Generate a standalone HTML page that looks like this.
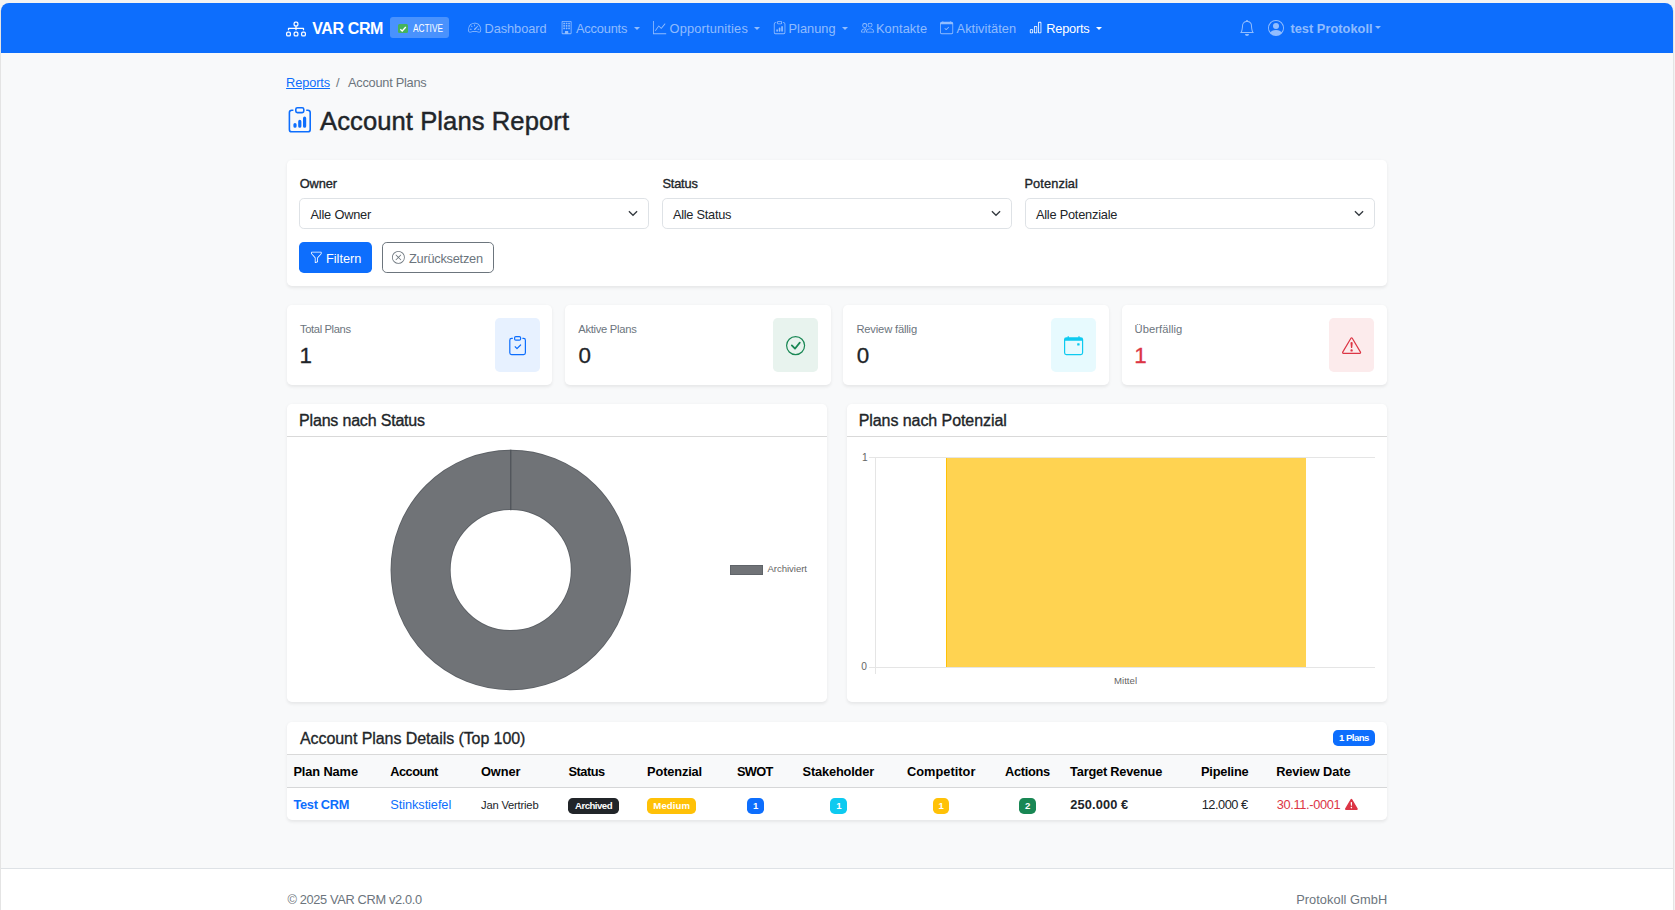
<!DOCTYPE html>
<html><head><meta charset="utf-8"><title>Account Plans Report - VAR CRM</title>
<style>
html,body{margin:0;padding:0}
body{width:1675px;height:910px;overflow:hidden;background:#f3f3f3;position:relative;font-family:"Liberation Sans", Arial, sans-serif}
#page{position:absolute;left:1px;top:3px;width:1672px;height:907px;background:#f8f9fa;border-radius:8px 8px 0 0}
.t{position:absolute;white-space:nowrap;line-height:1;font-family:"Liberation Sans", Arial, sans-serif}
a.t{text-decoration:none}
.b{position:absolute}
.i{position:absolute;overflow:visible}
</style></head><body>
<div id="page"></div>
<div class="b" style="left:1.00px;top:3.00px;width:1672.00px;height:50.00px;background:#0d6efd;border-radius:8px 8px 0 0"></div>
<div class="b" style="left:0.00px;top:10.00px;width:1.00px;height:900.00px;background:#e4e4e4"></div>
<div class="b" style="left:1673.00px;top:10.00px;width:1.00px;height:900.00px;background:#e4e4e4"></div>
<header><nav>
<svg class="i" style="left:286.00px;top:18.50px;width:20px;height:20px;color:#fff;" viewBox="0 0 16 16" fill="currentColor"><path fill-rule="evenodd" d="M6 3.5A1.5 1.5 0 0 1 7.5 2h1A1.5 1.5 0 0 1 10 3.5v1A1.5 1.5 0 0 1 8.5 6v1H14a.5.5 0 0 1 .5.5v1a.5.5 0 0 1-1 0V8h-5v.5a.5.5 0 0 1-1 0V8h-5v.5a.5.5 0 0 1-1 0v-1A.5.5 0 0 1 2 7h5.5V6A1.5 1.5 0 0 1 6 4.5zM8.5 5a.5.5 0 0 0 .5-.5v-1a.5.5 0 0 0-.5-.5h-1a.5.5 0 0 0-.5.5v1a.5.5 0 0 0 .5.5zM0 11.5A1.5 1.5 0 0 1 1.5 10h1A1.5 1.5 0 0 1 4 11.5v1A1.5 1.5 0 0 1 2.5 14h-1A1.5 1.5 0 0 1 0 12.5zm1.5-.5a.5.5 0 0 0-.5.5v1a.5.5 0 0 0 .5.5h1a.5.5 0 0 0 .5-.5v-1a.5.5 0 0 0-.5-.5zm4.5.5A1.5 1.5 0 0 1 7.5 10h1a1.5 1.5 0 0 1 1.5 1.5v1A1.5 1.5 0 0 1 8.5 14h-1A1.5 1.5 0 0 1 6 12.5zm1.5-.5a.5.5 0 0 0-.5.5v1a.5.5 0 0 0 .5.5h1a.5.5 0 0 0 .5-.5v-1a.5.5 0 0 0-.5-.5zm4.5.5a1.5 1.5 0 0 1 1.5-1.5h1a1.5 1.5 0 0 1 1.5 1.5v1a1.5 1.5 0 0 1-1.5 1.5h-1a1.5 1.5 0 0 1-1.5-1.5zm1.5-.5a.5.5 0 0 0-.5.5v1a.5.5 0 0 0 .5.5h1a.5.5 0 0 0 .5-.5v-1a.5.5 0 0 0-.5-.5z"/></svg>
<a href="#" id="brand" class="t" style="left:312.20px;top:21.36px;font-size:16px;font-weight:700;color:#fff;letter-spacing:-0.375px;">VAR CRM</a>
<div class="b" style="left:390.00px;top:17.00px;width:59.00px;height:21.00px;background:rgba(255,255,255,.25);border-radius:3px"></div>
<div class="b" style="left:398px;top:24px;width:10px;height:9px;background:#45b35c;border-radius:1.5px"></div>
<svg class="i" style="left:399px;top:24.5px;width:8px;height:8px" viewBox="0 0 8 8"><path d="M1.3 4.2 L3.2 6 L6.8 2" stroke="#fff" stroke-width="1.3" fill="none"/></svg>
<span id="active" class="t" style="left:412.90px;top:23.87px;font-size:10.2px;font-weight:400;color:#fff;letter-spacing:0.000px;transform:scaleX(0.8135);transform-origin:0.00px 0;">ACTIVE</span>
<svg class="i" style="left:468.30px;top:21.40px;width:13.2px;height:13.2px;color:rgba(255,255,255,.55);" viewBox="0 0 16 16" fill="currentColor"><path d="M8 4a.5.5 0 0 1 .5.5V6a.5.5 0 0 1-1 0V4.5A.5.5 0 0 1 8 4M3.732 5.732a.5.5 0 0 1 .707 0l.915.914a.5.5 0 1 1-.708.708l-.914-.915a.5.5 0 0 1 0-.707M2 10a.5.5 0 0 1 .5-.5h1.586a.5.5 0 0 1 0 1H2.5A.5.5 0 0 1 2 10m9.5 0a.5.5 0 0 1 .5-.5h1.5a.5.5 0 0 1 0 1H12a.5.5 0 0 1-.5-.5m.754-4.246a.39.39 0 0 0-.527-.02L7.547 9.31a.91.91 0 1 0 1.302 1.258l3.434-4.297a.39.39 0 0 0-.029-.518z"/><path fill-rule="evenodd" d="M0 10a8 8 0 1 1 15.547 2.661c-.442 1.253-1.845 1.602-2.932 1.25C11.309 13.488 9.475 13 8 13c-1.474 0-3.31.488-4.615.911-1.087.352-2.49.003-2.932-1.25A8 8 0 0 1 0 10m8-7a7 7 0 0 0-6.603 9.329c.203.575.923.876 1.68.63C4.397 12.533 6.358 12 8 12s3.604.532 4.923.96c.757.245 1.477-.056 1.68-.631A7 7 0 0 0 8 3"/></svg>
<a href="#" id="n_dash" class="t" style="left:484.50px;top:22.66px;font-size:12.8px;font-weight:400;color:rgba(255,255,255,.55);letter-spacing:-0.073px;">Dashboard</a>
<svg class="i" style="left:559.75px;top:21.40px;width:13.2px;height:13.2px;color:rgba(255,255,255,.55);" viewBox="0 0 16 16" fill="currentColor"><path d="M4 2.5a.5.5 0 0 1 .5-.5h1a.5.5 0 0 1 .5.5v1a.5.5 0 0 1-.5.5h-1a.5.5 0 0 1-.5-.5zm3 0a.5.5 0 0 1 .5-.5h1a.5.5 0 0 1 .5.5v1a.5.5 0 0 1-.5.5h-1a.5.5 0 0 1-.5-.5zm3.5-.5a.5.5 0 0 0-.5.5v1a.5.5 0 0 0 .5.5h1a.5.5 0 0 0 .5-.5v-1a.5.5 0 0 0-.5-.5zM4 5.5a.5.5 0 0 1 .5-.5h1a.5.5 0 0 1 .5.5v1a.5.5 0 0 1-.5.5h-1a.5.5 0 0 1-.5-.5zM7.5 5a.5.5 0 0 0-.5.5v1a.5.5 0 0 0 .5.5h1a.5.5 0 0 0 .5-.5v-1a.5.5 0 0 0-.5-.5zm2.5.5a.5.5 0 0 1 .5-.5h1a.5.5 0 0 1 .5.5v1a.5.5 0 0 1-.5.5h-1a.5.5 0 0 1-.5-.5zM4.5 8a.5.5 0 0 0-.5.5v1a.5.5 0 0 0 .5.5h1a.5.5 0 0 0 .5-.5v-1a.5.5 0 0 0-.5-.5zm2.5.5a.5.5 0 0 1 .5-.5h1a.5.5 0 0 1 .5.5v1a.5.5 0 0 1-.5.5h-1a.5.5 0 0 1-.5-.5zm3.5-.5a.5.5 0 0 0-.5.5v1a.5.5 0 0 0 .5.5h1a.5.5 0 0 0 .5-.5v-1a.5.5 0 0 0-.5-.5z"/><path d="M2 1a1 1 0 0 1 1-1h10a1 1 0 0 1 1 1v14a1 1 0 0 1-1 1H3a1 1 0 0 1-1-1zm11 0H3v14h3v-2.5a.5.5 0 0 1 .5-.5h3a.5.5 0 0 1 .5.5V15h3z"/></svg>
<a href="#" id="n_acc" class="t" style="left:576.00px;top:22.66px;font-size:12.8px;font-weight:400;color:rgba(255,255,255,.55);letter-spacing:-0.177px;">Accounts</a>
<div class="b" style="left:633.50px;top:27.0px;width:0;height:0;border-top:3.84px solid rgba(255,255,255,.55);border-left:3.84px solid transparent;border-right:3.84px solid transparent"></div>
<svg class="i" style="left:652.90px;top:21.40px;width:13.2px;height:13.2px;color:rgba(255,255,255,.55);" viewBox="0 0 16 16" fill="currentColor"><path fill-rule="evenodd" d="M0 0h1v15h15v1H0zm14.817 3.113a.5.5 0 0 1 .07.704l-4.5 5.5a.5.5 0 0 1-.74.037L7.06 6.767l-3.656 5.027a.5.5 0 0 1-.808-.588l4-5.5a.5.5 0 0 1 .758-.06l2.609 2.61 4.15-5.073a.5.5 0 0 1 .704-.07"/></svg>
<a href="#" id="n_opp" class="t" style="left:669.50px;top:22.66px;font-size:12.8px;font-weight:400;color:rgba(255,255,255,.55);letter-spacing:0.182px;">Opportunities</a>
<div class="b" style="left:753.90px;top:27.0px;width:0;height:0;border-top:3.84px solid rgba(255,255,255,.55);border-left:3.84px solid transparent;border-right:3.84px solid transparent"></div>
<svg class="i" style="left:772.67px;top:21.40px;width:13.2px;height:13.2px;color:rgba(255,255,255,.55);" viewBox="0 0 16 16" fill="currentColor"><path d="M4 11a1 1 0 1 1 2 0v1a1 1 0 1 1-2 0zm6-4a1 1 0 1 1 2 0v5a1 1 0 1 1-2 0zM7 9a1 1 0 0 1 2 0v3a1 1 0 1 1-2 0z"/><path d="M4 1.5H3a2 2 0 0 0-2 2V14a2 2 0 0 0 2 2h10a2 2 0 0 0 2-2V3.5a2 2 0 0 0-2-2h-1v1h1a1 1 0 0 1 1 1V14a1 1 0 0 1-1 1H3a1 1 0 0 1-1-1V3.5a1 1 0 0 1 1-1h1z"/><path d="M9.5 1a.5.5 0 0 1 .5.5v1a.5.5 0 0 1-.5.5h-3a.5.5 0 0 1-.5-.5v-1a.5.5 0 0 1 .5-.5zm-3-1A1.5 1.5 0 0 0 5 1.5v1A1.5 1.5 0 0 0 6.5 4h3A1.5 1.5 0 0 0 11 2.5v-1A1.5 1.5 0 0 0 9.5 0z"/></svg>
<a href="#" id="n_plan" class="t" style="left:788.60px;top:22.66px;font-size:12.8px;font-weight:400;color:rgba(255,255,255,.55);letter-spacing:-0.008px;">Planung</a>
<div class="b" style="left:841.90px;top:27.0px;width:0;height:0;border-top:3.84px solid rgba(255,255,255,.55);border-left:3.84px solid transparent;border-right:3.84px solid transparent"></div>
<svg class="i" style="left:860.60px;top:21.40px;width:13.2px;height:13.2px;color:rgba(255,255,255,.55);" viewBox="0 0 16 16" fill="currentColor"><path d="M15 14s1 0 1-1-1-4-5-4-5 3-5 4 1 1 1 1zm-7.978-1L7 12.996c.001-.264.167-1.03.76-1.72C8.312 10.629 9.282 10 11 10c1.717 0 2.687.63 3.24 1.276.593.69.758 1.457.76 1.72l-.008.002-.014.002zM11 7a2 2 0 1 0 0-4 2 2 0 0 0 0 4m3-2a3 3 0 1 1-6 0 3 3 0 0 1 6 0M6.936 9.28a6 6 0 0 0-1.23-.247A7 7 0 0 0 5 9c-4 0-5 3-5 4q0 1 1 1h4.216A2.24 2.24 0 0 1 5 13c0-1.01.377-2.042 1.09-2.904.243-.294.526-.569.846-.816M4.92 10A5.5 5.5 0 0 0 4 13H1c0-.26.164-1.03.76-1.724.545-.636 1.492-1.256 3.16-1.275ZM1.5 5.5a3 3 0 1 1 6 0 3 3 0 0 1-6 0m3-2a2 2 0 1 0 0 4 2 2 0 0 0 0-4"/></svg>
<a href="#" id="n_kon" class="t" style="left:876.00px;top:22.66px;font-size:12.8px;font-weight:400;color:rgba(255,255,255,.55);letter-spacing:0.086px;">Kontakte</a>
<svg class="i" style="left:940.00px;top:21.40px;width:13.2px;height:13.2px;color:rgba(255,255,255,.55);" viewBox="0 0 16 16" fill="currentColor"><path d="M10.854 7.146a.5.5 0 0 1 0 .708l-3 3a.5.5 0 0 1-.708 0l-1.5-1.5a.5.5 0 1 1 .708-.708L7.5 9.793l2.646-2.647a.5.5 0 0 1 .708 0"/><path d="M3.5 0a.5.5 0 0 1 .5.5V1h8V.5a.5.5 0 0 1 1 0V1h1a2 2 0 0 1 2 2v11a2 2 0 0 1-2 2H2a2 2 0 0 1-2-2V3a2 2 0 0 1 2-2h1V.5a.5.5 0 0 1 .5-.5M1 4v10a1 1 0 0 0 1 1h12a1 1 0 0 0 1-1V4z"/></svg>
<a href="#" id="n_akt" class="t" style="left:956.60px;top:22.66px;font-size:12.8px;font-weight:400;color:rgba(255,255,255,.55);letter-spacing:0.048px;">Aktivitäten</a>
<svg class="i" style="left:1028.97px;top:21.40px;width:13.2px;height:13.2px;color:#fff;" viewBox="0 0 16 16" fill="currentColor"><path d="M4 11H2v3h2zm5-4H7v7h2zm5-5v12h-2V2zm-2-1a1 1 0 0 0-1 1v12a1 1 0 0 0 1 1h2a1 1 0 0 0 1-1V2a1 1 0 0 0-1-1zM6 7a1 1 0 0 1 1-1h2a1 1 0 0 1 1 1v7a1 1 0 0 1-1 1H7a1 1 0 0 1-1-1zm-5 4a1 1 0 0 1 1-1h2a1 1 0 0 1 1 1v3a1 1 0 0 1-1 1H2a1 1 0 0 1-1-1z"/></svg>
<a href="#" id="n_rep" class="t" style="left:1046.30px;top:22.66px;font-size:12.8px;font-weight:400;color:#fff;letter-spacing:-0.252px;">Reports</a>
<div class="b" style="left:1095.70px;top:27.0px;width:0;height:0;border-top:3.84px solid #fff;border-left:3.84px solid transparent;border-right:3.84px solid transparent"></div>
<svg class="i" style="left:1239.20px;top:19.90px;width:16px;height:16px;color:rgba(255,255,255,.55);" viewBox="0 0 16 16" fill="currentColor"><path d="M8 16a2 2 0 0 0 2-2H6a2 2 0 0 0 2 2M8 1.918l-.797.161A4 4 0 0 0 4 6c0 .628-.134 2.197-.459 3.742-.16.767-.376 1.566-.663 2.258h10.244c-.287-.692-.502-1.49-.663-2.258C12.134 8.197 12 6.628 12 6a4 4 0 0 0-3.203-3.92zM14.22 12c.223.447.481.801.78 1H1c.299-.199.557-.553.78-1C2.68 10.2 3 6.88 3 6c0-2.42 1.72-4.44 4.005-4.901a1 1 0 1 1 1.99 0A5 5 0 0 1 13 6c0 .88.32 4.2 1.22 6"/></svg>
<svg class="i" style="left:1267.80px;top:20.00px;width:16px;height:16px;color:rgba(255,255,255,.55);" viewBox="0 0 16 16" fill="currentColor"><path d="M11 6a3 3 0 1 1-6 0 3 3 0 0 1 6 0"/><path fill-rule="evenodd" d="M0 8a8 8 0 1 1 16 0A8 8 0 0 1 0 8m8-7a7 7 0 0 0-5.468 11.37C3.242 11.226 4.805 10 8 10s4.757 1.225 5.468 2.37A7 7 0 0 0 8 1"/></svg>
<a href="#" id="user" class="t" style="left:1290.40px;top:23.06px;font-size:12.8px;font-weight:700;color:rgba(255,255,255,.55);letter-spacing:0.030px;">test Protokoll</a>
<div class="b" style="left:1374.8px;top:25.5px;width:0;height:0;border-top:3.84px solid rgba(255,255,255,.55);border-left:3.84px solid transparent;border-right:3.84px solid transparent"></div>
</nav></header><main>
<a href="#" id="bc1" class="t" style="left:286.10px;top:77.26px;font-size:12.8px;font-weight:400;color:#0d6efd;letter-spacing:-0.118px;text-decoration:underline;">Reports</a>
<span id="bc2" class="t" style="left:335.90px;top:77.26px;font-size:12.8px;font-weight:400;color:#6c757d;letter-spacing:0.000px;">/</span>
<span id="bc3" class="t" style="left:348.00px;top:77.26px;font-size:12.8px;font-weight:400;color:#6c757d;letter-spacing:-0.259px;">Account Plans</span>
<svg class="i" style="left:287.20px;top:106.70px;width:25.6px;height:25.6px;color:#0d6efd;" viewBox="0 0 16 16" fill="currentColor"><path d="M4 11a1 1 0 1 1 2 0v1a1 1 0 1 1-2 0zm6-4a1 1 0 1 1 2 0v5a1 1 0 1 1-2 0zM7 9a1 1 0 0 1 2 0v3a1 1 0 1 1-2 0z"/><path d="M4 1.5H3a2 2 0 0 0-2 2V14a2 2 0 0 0 2 2h10a2 2 0 0 0 2-2V3.5a2 2 0 0 0-2-2h-1v1h1a1 1 0 0 1 1 1V14a1 1 0 0 1-1 1H3a1 1 0 0 1-1-1V3.5a1 1 0 0 1 1-1h1z"/><path d="M9.5 1a.5.5 0 0 1 .5.5v1a.5.5 0 0 1-.5.5h-3a.5.5 0 0 1-.5-.5v-1a.5.5 0 0 1 .5-.5zm-3-1A1.5 1.5 0 0 0 5 1.5v1A1.5 1.5 0 0 0 6.5 4h3A1.5 1.5 0 0 0 11 2.5v-1A1.5 1.5 0 0 0 9.5 0z"/></svg>
<span id="title" class="t" style="left:320.00px;top:108.83px;font-size:25.6px;font-weight:400;color:#212529;letter-spacing:0.077px;-webkit-text-stroke:0.45px #212529;">Account Plans Report</span>
<div class="b" style="left:287.00px;top:160.00px;width:1100.00px;height:126.00px;box-shadow:0 1.6px 3.2px rgba(0,0,0,.075);border-radius:4.8px;background:#fff"></div>
<span id="l_own" class="t" style="left:299.80px;top:177.96px;font-size:12.8px;font-weight:400;color:#212529;letter-spacing:-0.132px;-webkit-text-stroke:0.35px #212529;">Owner</span>
<span id="l_sta" class="t" style="left:662.40px;top:177.96px;font-size:12.8px;font-weight:400;color:#212529;letter-spacing:-0.176px;-webkit-text-stroke:0.35px #212529;">Status</span>
<span id="l_pot" class="t" style="left:1024.40px;top:177.96px;font-size:12.8px;font-weight:400;color:#212529;letter-spacing:0.112px;-webkit-text-stroke:0.35px #212529;">Potenzial</span>
<div class="b" style="left:299.00px;top:198.00px;width:350.00px;height:31.00px;border:1px solid #dee2e6;border-radius:4.8px;background:#fff;box-sizing:border-box"></div>
<svg class="i" style="left:627.60px;top:210.2px;width:10px;height:7px" viewBox="0 0 10 7"><path d="M0.9 1.2 L5 5.3 L9.1 1.2" stroke="#343a40" stroke-width="1.3" fill="none"/></svg>
<div class="b" style="left:662.00px;top:198.00px;width:350.00px;height:31.00px;border:1px solid #dee2e6;border-radius:4.8px;background:#fff;box-sizing:border-box"></div>
<svg class="i" style="left:990.60px;top:210.2px;width:10px;height:7px" viewBox="0 0 10 7"><path d="M0.9 1.2 L5 5.3 L9.1 1.2" stroke="#343a40" stroke-width="1.3" fill="none"/></svg>
<div class="b" style="left:1025.00px;top:198.00px;width:350.00px;height:31.00px;border:1px solid #dee2e6;border-radius:4.8px;background:#fff;box-sizing:border-box"></div>
<svg class="i" style="left:1353.60px;top:210.2px;width:10px;height:7px" viewBox="0 0 10 7"><path d="M0.9 1.2 L5 5.3 L9.1 1.2" stroke="#343a40" stroke-width="1.3" fill="none"/></svg>
<span id="s_own" class="t" style="left:310.50px;top:208.66px;font-size:12.8px;font-weight:400;color:#212529;letter-spacing:-0.203px;">Alle Owner</span>
<span id="s_sta" class="t" style="left:672.90px;top:208.66px;font-size:12.8px;font-weight:400;color:#212529;letter-spacing:-0.257px;">Alle Status</span>
<span id="s_pot" class="t" style="left:1035.90px;top:208.66px;font-size:12.8px;font-weight:400;color:#212529;letter-spacing:-0.224px;">Alle Potenziale</span>
<div class="b" style="left:299.00px;top:242.00px;width:73.00px;height:31.00px;background:#0d6efd;border-radius:4.8px"></div>
<svg class="i" style="left:309.70px;top:250.90px;width:12.8px;height:12.8px;color:#fff;" viewBox="0 0 16 16" fill="currentColor"><path d="M1.5 1.5A.5.5 0 0 1 2 1h12a.5.5 0 0 1 .5.5v2a.5.5 0 0 1-.128.334L10 8.692V13.5a.5.5 0 0 1-.342.474l-3 1A.5.5 0 0 1 6 14.5V8.692L1.628 3.834A.5.5 0 0 1 1.5 3.5zm1 .5v1.308l4.372 4.858A.5.5 0 0 1 7 8.5v5.306l2-.666V8.5a.5.5 0 0 1 .128-.334L13.5 3.308V2z"/></svg>
<span id="b_filt" class="t" style="left:326.00px;top:253.06px;font-size:12.8px;font-weight:400;color:#fff;letter-spacing:-0.023px;">Filtern</span>
<div class="b" style="left:382.00px;top:242.00px;width:112.00px;height:31.00px;border:1px solid #6c757d;border-radius:4.8px;box-sizing:border-box"></div>
<svg class="i" style="left:392.30px;top:250.90px;width:12.8px;height:12.8px;color:#6c757d;" viewBox="0 0 16 16" fill="currentColor"><path d="M8 15A7 7 0 1 1 8 1a7 7 0 0 1 0 14m0 1A8 8 0 1 0 8 0a8 8 0 0 0 0 16"/><path d="M4.646 4.646a.5.5 0 0 1 .708 0L8 7.293l2.646-2.647a.5.5 0 0 1 .708.708L8.707 8l2.647 2.646a.5.5 0 0 1-.708.708L8 8.707l-2.646 2.647a.5.5 0 0 1-.708-.708L7.293 8 4.646 5.354a.5.5 0 0 1 0-.708"/></svg>
<span id="b_reset" class="t" style="left:409.00px;top:253.06px;font-size:12.8px;font-weight:400;color:#6c757d;letter-spacing:-0.254px;">Zurücksetzen</span>
<div class="b" style="left:287.00px;top:305.00px;width:265.40px;height:80.00px;box-shadow:0 1.6px 3.2px rgba(0,0,0,.075);border-radius:4.8px;background:#fff"></div>
<span id="st1l" class="t" style="left:300.00px;top:324.32px;font-size:11.2px;font-weight:400;color:#6c757d;letter-spacing:-0.373px;">Total Plans</span>
<span id="st1n" class="t" style="left:299.60px;top:344.94px;font-size:22.4px;font-weight:400;color:#212529;letter-spacing:0.000px;-webkit-text-stroke:0.3px #212529;">1</span>
<div class="b" style="left:494.80px;top:317.80px;width:44.80px;height:54.40px;background:#e7f1ff;border-radius:4.8px"></div>
<svg class="i" style="left:507.60px;top:336.10px;width:19.2px;height:19.2px;color:#0d6efd;" viewBox="0 0 16 16" fill="currentColor"><path fill-rule="evenodd" d="M10.854 7.146a.5.5 0 0 1 0 .708l-3 3a.5.5 0 0 1-.708 0l-1.5-1.5a.5.5 0 1 1 .708-.708L7.5 9.793l2.646-2.647a.5.5 0 0 1 .708 0"/><path d="M4 1.5H3a2 2 0 0 0-2 2V14a2 2 0 0 0 2 2h10a2 2 0 0 0 2-2V3.5a2 2 0 0 0-2-2h-1v1h1a1 1 0 0 1 1 1V14a1 1 0 0 1-1 1H3a1 1 0 0 1-1-1V3.5a1 1 0 0 1 1-1h1z"/><path d="M9.5 1a.5.5 0 0 1 .5.5v1a.5.5 0 0 1-.5.5h-3a.5.5 0 0 1-.5-.5v-1a.5.5 0 0 1 .5-.5zm-3-1A1.5 1.5 0 0 0 5 1.5v1A1.5 1.5 0 0 0 6.5 4h3A1.5 1.5 0 0 0 11 2.5v-1A1.5 1.5 0 0 0 9.5 0z"/></svg>
<div class="b" style="left:565.20px;top:305.00px;width:265.40px;height:80.00px;box-shadow:0 1.6px 3.2px rgba(0,0,0,.075);border-radius:4.8px;background:#fff"></div>
<span id="st2l" class="t" style="left:578.20px;top:324.32px;font-size:11.2px;font-weight:400;color:#6c757d;letter-spacing:-0.270px;">Aktive Plans</span>
<span id="st2n" class="t" style="left:578.60px;top:344.94px;font-size:22.4px;font-weight:400;color:#212529;letter-spacing:0.000px;-webkit-text-stroke:0.3px #212529;">0</span>
<div class="b" style="left:773.00px;top:317.80px;width:44.80px;height:54.40px;background:#e8f3ee;border-radius:4.8px"></div>
<svg class="i" style="left:785.80px;top:336.10px;width:19.2px;height:19.2px;color:#198754;" viewBox="0 0 16 16" fill="currentColor"><path d="M8 15A7 7 0 1 1 8 1a7 7 0 0 1 0 14m0 1A8 8 0 1 0 8 0a8 8 0 0 0 0 16"/><path d="m10.97 4.97-.02.022-3.473 4.425-2.093-2.094a.75.75 0 0 0-1.06 1.06L6.97 11.03a.75.75 0 0 0 1.079-.02l3.992-4.99a.75.75 0 0 0-1.071-1.05"/></svg>
<div class="b" style="left:843.40px;top:305.00px;width:265.40px;height:80.00px;box-shadow:0 1.6px 3.2px rgba(0,0,0,.075);border-radius:4.8px;background:#fff"></div>
<span id="st3l" class="t" style="left:856.40px;top:324.32px;font-size:11.2px;font-weight:400;color:#6c757d;letter-spacing:-0.173px;">Review fällig</span>
<span id="st3n" class="t" style="left:856.80px;top:344.94px;font-size:22.4px;font-weight:400;color:#212529;letter-spacing:0.000px;-webkit-text-stroke:0.3px #212529;">0</span>
<div class="b" style="left:1051.20px;top:317.80px;width:44.80px;height:54.40px;background:#e7fafe;border-radius:4.8px"></div>
<svg class="i" style="left:1064.00px;top:336.10px;width:19.2px;height:19.2px;color:#0dcaf0;" viewBox="0 0 16 16" fill="currentColor"><path d="M11 6.5a.5.5 0 0 1 .5-.5h1a.5.5 0 0 1 .5.5v1a.5.5 0 0 1-.5.5h-1a.5.5 0 0 1-.5-.5z"/><path d="M3.5 0a.5.5 0 0 1 .5.5V1h8V.5a.5.5 0 0 1 1 0V1h1a2 2 0 0 1 2 2v11a2 2 0 0 1-2 2H2a2 2 0 0 1-2-2V3a2 2 0 0 1 2-2h1V.5a.5.5 0 0 1 .5-.5M1 4v10a1 1 0 0 0 1 1h12a1 1 0 0 0 1-1V4z"/></svg>
<div class="b" style="left:1121.60px;top:305.00px;width:265.40px;height:80.00px;box-shadow:0 1.6px 3.2px rgba(0,0,0,.075);border-radius:4.8px;background:#fff"></div>
<span id="st4l" class="t" style="left:1134.60px;top:324.32px;font-size:11.2px;font-weight:400;color:#6c757d;letter-spacing:0.041px;">Überfällig</span>
<span id="st4n" class="t" style="left:1134.20px;top:344.94px;font-size:22.4px;font-weight:400;color:#dc3545;letter-spacing:0.000px;-webkit-text-stroke:0.3px #dc3545;">1</span>
<div class="b" style="left:1329.40px;top:317.80px;width:44.80px;height:54.40px;background:#fcebec;border-radius:4.8px"></div>
<svg class="i" style="left:1342.20px;top:336.10px;width:19.2px;height:19.2px;color:#dc3545;" viewBox="0 0 16 16" fill="currentColor"><path d="M7.938 2.016A.13.13 0 0 1 8.002 2a.13.13 0 0 1 .063.016.15.15 0 0 1 .054.057l6.857 11.667c.036.06.035.124.002.183a.2.2 0 0 1-.054.06.1.1 0 0 1-.066.017H1.146a.1.1 0 0 1-.066-.017.2.2 0 0 1-.054-.06.18.18 0 0 1 .002-.183L7.884 2.073a.15.15 0 0 1 .054-.057m1.044-.45a1.13 1.13 0 0 0-1.96 0L.165 13.233c-.457.778.091 1.767.98 1.767h13.713c.889 0 1.438-.99.98-1.767z"/><path d="M7.002 12a1 1 0 1 1 2 0 1 1 0 0 1-2 0M7.1 5.995a.905.905 0 1 1 1.8 0l-.35 3.507a.552.552 0 0 1-1.1 0z"/></svg>
<div class="b" style="left:287.00px;top:404.20px;width:540.40px;height:297.60px;box-shadow:0 1.6px 3.2px rgba(0,0,0,.075);border-radius:4.8px;background:#fff"></div>
<div class="b" style="left:287.00px;top:436.00px;width:540.40px;height:1.00px;background:#d9d9d9"></div>
<span id="c1" class="t" style="left:299.10px;top:413.16px;font-size:16px;font-weight:400;color:#212529;letter-spacing:-0.186px;-webkit-text-stroke:0.35px #212529;">Plans nach Status</span>
<div class="b" style="left:846.60px;top:404.20px;width:540.40px;height:297.60px;box-shadow:0 1.6px 3.2px rgba(0,0,0,.075);border-radius:4.8px;background:#fff"></div>
<div class="b" style="left:846.60px;top:436.00px;width:540.40px;height:1.00px;background:#d9d9d9"></div>
<span id="c2" class="t" style="left:858.70px;top:413.16px;font-size:16px;font-weight:400;color:#212529;letter-spacing:-0.067px;-webkit-text-stroke:0.35px #212529;">Plans nach Potenzial</span>
<svg class="i" style="left:380px;top:440px;width:262px;height:260px" viewBox="380 440 262 260"><circle cx="510.75" cy="570" r="90.15" fill="none" stroke="#5d6166" stroke-width="60.1"/><circle cx="510.75" cy="570" r="90.15" fill="none" stroke="#707377" stroke-width="58.3"/><line x1="510.75" y1="449.8" x2="510.75" y2="510.2" stroke="#4f5459" stroke-width="1.3"/></svg>
<div class="b" style="left:730.00px;top:564.50px;width:32.80px;height:10.80px;background:#707377;border:1px solid #5f6469;box-sizing:border-box"></div>
<span id="leg" class="t" style="left:767.50px;top:564.27px;font-size:9.6px;font-weight:400;color:#666;letter-spacing:-0.057px;">Archiviert</span>
<div class="b" style="left:868.80px;top:457.30px;width:506.20px;height:1.00px;background:#e5e5e5"></div>
<div class="b" style="left:868.80px;top:667.00px;width:506.20px;height:1.00px;background:#e5e5e5"></div>
<div class="b" style="left:874.90px;top:457.30px;width:1.00px;height:216.70px;background:#e5e5e5"></div>
<div class="b" style="left:945.60px;top:457.50px;width:360.10px;height:209.70px;background:rgba(255,193,7,.7);border-left:1px solid #ffc107;box-sizing:border-box"></div>
<span id="y1" class="t" style="left:861.90px;top:452.77px;font-size:10.2px;font-weight:400;color:#666;letter-spacing:0.000px;">1</span>
<span id="y0" class="t" style="left:861.20px;top:661.57px;font-size:10.2px;font-weight:400;color:#666;letter-spacing:0.000px;">0</span>
<span id="xm" class="t" style="left:1114.00px;top:676.47px;font-size:9.6px;font-weight:400;color:#666;letter-spacing:0.022px;">Mittel</span>
<div class="b" style="left:287.00px;top:722.30px;width:1100.00px;height:97.50px;box-shadow:0 1.6px 3.2px rgba(0,0,0,.075);border-radius:4.8px;background:#fff;overflow:hidden"></div>
<div class="b" style="left:287.00px;top:754.30px;width:1100.00px;height:33.20px;background:#f8f9fa"></div>
<div class="b" style="left:287.00px;top:753.80px;width:1100.00px;height:1.00px;background:#d9d9d9"></div>
<div class="b" style="left:287.00px;top:787.00px;width:1100.00px;height:1.00px;background:#d6d7d8"></div>
<span id="tt" class="t" style="left:300.00px;top:731.26px;font-size:16px;font-weight:400;color:#212529;letter-spacing:-0.075px;-webkit-text-stroke:0.3px #212529;">Account Plans Details (Top 100)</span>
<div class="b" style="left:1333.00px;top:730.00px;width:42.00px;height:16.00px;background:#0d6efd;border-radius:4.8px"></div>
<span id="bplans" class="t" style="left:1339.00px;top:732.57px;font-size:9.6px;font-weight:700;color:#fff;letter-spacing:-0.527px;">1 Plans</span>
<span id="h1" class="t" style="left:293.40px;top:766.16px;font-size:12.8px;font-weight:700;color:#000;letter-spacing:-0.102px;">Plan Name</span>
<span id="h2" class="t" style="left:390.30px;top:766.16px;font-size:12.8px;font-weight:700;color:#000;letter-spacing:-0.521px;">Account</span>
<span id="h3" class="t" style="left:481.00px;top:766.16px;font-size:12.8px;font-weight:700;color:#000;letter-spacing:-0.110px;">Owner</span>
<span id="h4" class="t" style="left:568.50px;top:766.16px;font-size:12.8px;font-weight:700;color:#000;letter-spacing:-0.498px;">Status</span>
<span id="h5" class="t" style="left:647.10px;top:766.16px;font-size:12.8px;font-weight:700;color:#000;letter-spacing:-0.140px;">Potenzial</span>
<span id="h6" class="t" style="left:737.00px;top:766.16px;font-size:12.8px;font-weight:700;color:#000;letter-spacing:-0.689px;">SWOT</span>
<span id="h7" class="t" style="left:802.60px;top:766.16px;font-size:12.8px;font-weight:700;color:#000;letter-spacing:-0.167px;">Stakeholder</span>
<span id="h8" class="t" style="left:906.90px;top:766.16px;font-size:12.8px;font-weight:700;color:#000;letter-spacing:0.026px;">Competitor</span>
<span id="h9" class="t" style="left:1005.00px;top:766.16px;font-size:12.8px;font-weight:700;color:#000;letter-spacing:-0.318px;">Actions</span>
<span id="h10" class="t" style="left:1070.10px;top:766.16px;font-size:12.8px;font-weight:700;color:#000;letter-spacing:-0.219px;">Target Revenue</span>
<span id="h11" class="t" style="left:1201.00px;top:766.16px;font-size:12.8px;font-weight:700;color:#000;letter-spacing:-0.207px;">Pipeline</span>
<span id="h12" class="t" style="left:1276.20px;top:766.16px;font-size:12.8px;font-weight:700;color:#000;letter-spacing:-0.108px;">Review Date</span>
<a href="#" id="d1" class="t" style="left:293.50px;top:799.06px;font-size:12.8px;font-weight:700;color:#0d6efd;letter-spacing:-0.314px;">Test CRM</a>
<a href="#" id="d2" class="t" style="left:390.30px;top:799.06px;font-size:12.8px;font-weight:400;color:#0d6efd;letter-spacing:-0.085px;">Stinkstiefel</a>
<span id="d3" class="t" style="left:481.00px;top:800.12px;font-size:11.2px;font-weight:400;color:#212529;letter-spacing:-0.189px;">Jan Vertrieb</span>
<div class="b" style="left:567.90px;top:797.90px;width:51.00px;height:15.90px;background:#212529;border-radius:4.8px"></div>
<span id="bd1" class="t" style="left:575.00px;top:801.47px;font-size:9.6px;font-weight:700;color:#fff;letter-spacing:-0.499px;">Archived</span>
<div class="b" style="left:647.00px;top:797.90px;width:48.90px;height:15.90px;background:#ffc107;border-radius:4.8px"></div>
<span id="bd2" class="t" style="left:653.30px;top:801.47px;font-size:9.6px;font-weight:700;color:#fff;letter-spacing:0.117px;">Medium</span>
<div class="b" style="left:747.00px;top:797.90px;width:16.80px;height:15.90px;background:#0d6efd;border-radius:4.8px"></div>
<span id="bd3" class="t" style="left:753.10px;top:801.47px;font-size:9.6px;font-weight:700;color:#fff;letter-spacing:0.000px;">1</span>
<div class="b" style="left:830.00px;top:797.90px;width:17.00px;height:15.90px;background:#0dcaf0;border-radius:4.8px"></div>
<span id="bd4" class="t" style="left:836.20px;top:801.47px;font-size:9.6px;font-weight:700;color:#fff;letter-spacing:0.000px;">1</span>
<div class="b" style="left:932.90px;top:797.90px;width:15.80px;height:15.90px;background:#ffc107;border-radius:4.8px"></div>
<span id="bd5" class="t" style="left:938.50px;top:801.47px;font-size:9.6px;font-weight:700;color:#fff;letter-spacing:0.000px;">1</span>
<div class="b" style="left:1018.90px;top:797.90px;width:16.80px;height:15.90px;background:#198754;border-radius:4.8px"></div>
<span id="bd6" class="t" style="left:1025.00px;top:801.47px;font-size:9.6px;font-weight:700;color:#fff;letter-spacing:0.000px;">2</span>
<span id="d4" class="t" style="left:1070.20px;top:799.06px;font-size:12.8px;font-weight:700;color:#212529;letter-spacing:0.136px;">250.000 €</span>
<span id="d5" class="t" style="left:1201.70px;top:799.06px;font-size:12.8px;font-weight:400;color:#212529;letter-spacing:-0.485px;">12.000 €</span>
<span id="d6" class="t" style="left:1276.70px;top:799.06px;font-size:12.8px;font-weight:400;color:#dc3545;letter-spacing:-0.334px;">30.11.-0001</span>
<svg class="i" style="left:1345.20px;top:798.00px;width:12.8px;height:12.8px;color:#dc3545;" viewBox="0 0 16 16" fill="currentColor"><path d="M8.982 1.566a1.13 1.13 0 0 0-1.96 0L.165 13.233c-.457.778.091 1.767.98 1.767h13.713c.889 0 1.438-.99.98-1.767zM8 5c.535 0 .954.462.9.995l-.35 3.507a.552.552 0 0 1-1.1 0L7.1 5.995A.905.905 0 0 1 8 5m.002 6a1 1 0 1 1 0 2 1 1 0 0 1 0-2"/></svg>
</main><footer>
<div class="b" style="left:1.00px;top:868.00px;width:1672.00px;height:42.00px;background:#fff;border-top:1px solid #dee2e6;box-sizing:border-box"></div>
<span id="f1" class="t" style="left:287.50px;top:893.86px;font-size:12.8px;font-weight:400;color:#6c757d;letter-spacing:-0.348px;">© 2025 VAR CRM v2.0.0</span>
<span id="f2" class="t" style="left:1296.20px;top:893.76px;font-size:12.8px;font-weight:400;color:#6c757d;letter-spacing:0.048px;">Protokoll GmbH</span>
</footer>
</body></html>
